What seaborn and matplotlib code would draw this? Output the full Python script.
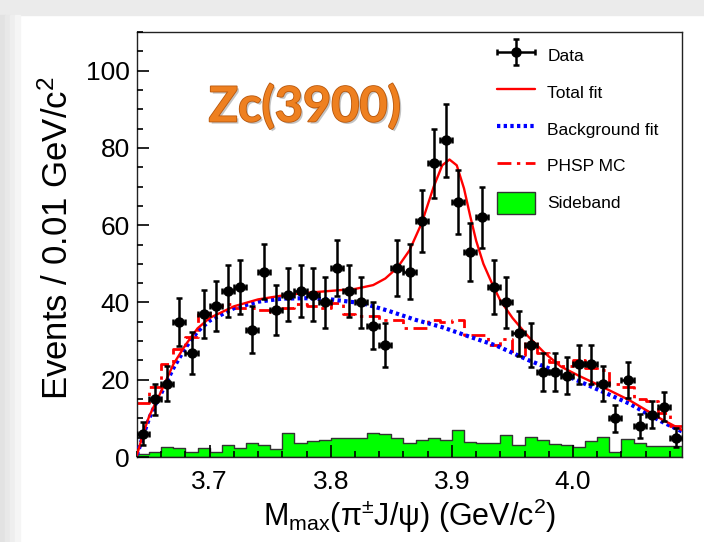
import numpy as np
import pandas as pd
import matplotlib
matplotlib.use("Agg")
import matplotlib.pyplot as plt
import matplotlib.patheffects as pe
from matplotlib.patches import Patch, Rectangle
from matplotlib.ticker import MultipleLocator
from matplotlib.container import ErrorbarContainer
from matplotlib.legend_handler import HandlerErrorbar
import seaborn as sns

# -------------------------------
# Data, bins of 0.01 GeV/c^2 from 3.64
# -------------------------------
bin_lo = 3.64
bin_width = 0.01
n_bins = 45

data_counts = [6, 15, 19, 35, 27, 37, 39, 43, 44, 33,
               48, 38, 42, 43, 42, 40, 49, 43, 40, 34,
               29, 49, 48, 61, 76, 82, 66, 53, 62, 44,
               40, 32, 29, 22, 22, 21, 24, 24, 19, 10,
               20, 8, 11, 13, 5]
data_errors = [3.0, 4.0, 4.5, 6.2, 5.4, 6.3, 6.5, 6.8, 6.9, 6.0,
               7.2, 6.4, 6.8, 6.8, 6.8, 6.6, 7.2, 6.8, 6.6, 6.0,
               5.6, 7.2, 7.2, 8.0, 8.9, 9.4, 8.4, 7.5, 8.0, 6.9,
               6.6, 5.9, 5.6, 4.9, 4.9, 4.8, 5.1, 5.1, 4.6, 3.4,
               4.7, 3.1, 3.5, 3.8, 2.4]
phsp_mc = [14, 18, 24, 28, 31, 37, 39, 39.5, 38.5, 38.5,
           38, 37.5, 38.5, 39.5, 39, 38.5, 39.8, 37, 36.5, 36.5,
           35.5, 35.5, 33.5, 33.5, 35.5, 35, 35.5, 31.5, 31.5, 29,
           30.5, 26.5, 30, 27, 24.5, 23.5, 25, 23, 22.5, 19,
           18, 15, 14.5, 11.5, 8]
sideband = [0.9, 1.4, 2.5, 2.3, 1.2, 2.3, 1.4, 3.0, 2.3, 3.7,
            3.2, 2.0, 6.3, 3.7, 4.2, 4.4, 4.9, 4.9, 4.9, 6.3,
            6.0, 4.9, 3.5, 4.4, 4.8, 4.4, 7.1, 3.9, 3.5, 3.7,
            5.7, 3.2, 5.3, 4.4, 3.4, 3.0, 2.5, 4.2, 5.1, 1.4,
            4.6, 3.7, 2.8, 2.8, 2.8]

total_fit_x = [3.640, 3.645, 3.650, 3.655, 3.660, 3.670, 3.680, 3.690, 3.700,
               3.720, 3.740, 3.760, 3.780, 3.800, 3.820, 3.835, 3.845, 3.855,
               3.865, 3.875, 3.885, 3.892, 3.898, 3.904, 3.910, 3.915, 3.920,
               3.926, 3.933, 3.940, 3.950, 3.963, 3.977, 3.990, 4.005, 4.020,
               4.046, 4.073, 4.090]
total_fit_y = [0.5, 6, 10.5, 13.8, 17, 24, 29, 33.3, 36,
               39, 40.8, 41.8, 42.5, 43, 43.5, 44.5, 46.2, 49,
               53.5, 60.5, 70, 75.5, 77, 75.5, 69.5, 62.5, 56,
               50, 45, 40.5, 36, 31.2, 26.8, 23.4, 21, 18.8,
               14.8, 9.8, 7]
bkg_fit_x = [3.640, 3.645, 3.650, 3.655, 3.660, 3.670, 3.680, 3.690, 3.700,
             3.720, 3.740, 3.760, 3.780, 3.800, 3.826, 3.847, 3.870, 3.892,
             3.914, 3.937, 3.963, 3.990, 4.018, 4.046, 4.073, 4.090]
bkg_fit_y = [0.5, 5.5, 10, 13.5, 16.5, 23, 28.3, 32.5, 35.3,
             38.5, 40.2, 41, 41.1, 40.8, 39.8, 37.9, 35.5, 33.6,
             31.2, 28.8, 25.1, 21.7, 17.8, 13.9, 9.2, 6.6]

edges = bin_lo + bin_width * np.arange(n_bins + 1)
centers = edges[:-1] + bin_width / 2
hist_df = pd.DataFrame({'mass': centers, 'sideband': sideband, 'phsp': phsp_mc})

# -------------------------------
# Style
# -------------------------------
sns.set_style("ticks")
plt.rcParams['font.family'] = ['Liberation Sans', 'DejaVu Sans']
plt.rcParams['mathtext.fontset'] = 'custom'
plt.rcParams['mathtext.rm'] = 'Liberation Sans'
plt.rcParams['mathtext.it'] = 'Liberation Sans'
for key in ['text.color', 'axes.labelcolor', 'xtick.color', 'ytick.color', 'axes.edgecolor']:
    plt.rcParams[key] = 'black'

fig = plt.figure(figsize=(7.04, 5.42), dpi=100)
fig.patch.set_facecolor('white')

# slide screenshot border (grey strip at top and left)
fig.patches.append(Rectangle((0, 1 - 15 / 542), 1, 15 / 542, transform=fig.transFigure,
                             color='#ebebeb', zorder=0))
for i, c in enumerate(['#e2e2e2', '#e8e8e8', '#eeeeee', '#f5f5f5']):
    fig.patches.append(Rectangle((i * 5 / 704, 0), 5 / 704, 1 - 15 / 542,
                                 transform=fig.transFigure, color=c, zorder=0))

ax = fig.add_axes([0.1946, 0.1568, 0.7742, 0.7841])

# sideband (green filled histogram)
sns.histplot(data=hist_df, x='mass', weights='sideband', bins=list(edges),
             element="step", fill=True, facecolor="#00ff00", edgecolor="#333333",
             linewidth=1.0, alpha=1, ax=ax, zorder=1)

# PHSP MC (red dash-dot histogram)
sns.histplot(data=hist_df, x='mass', weights='phsp', bins=list(edges),
             element="step", fill=False, color="red", linewidth=2.0,
             linestyle=(0, (5, 2, 1.2, 2)), ax=ax, zorder=2)

# background fit and total fit
sns.lineplot(x=bkg_fit_x, y=bkg_fit_y, color="#0000ff", linewidth=3.0,
             linestyle=(0, (0.8, 0.8)), sort=False, ax=ax, zorder=3)
sns.lineplot(x=total_fit_x, y=total_fit_y, color="red", linewidth=1.7,
             sort=False, ax=ax, zorder=4)

# data points
data_h = ax.errorbar(centers, data_counts, xerr=bin_width / 2, yerr=data_errors,
                     fmt='o', color='black', ms=6.5, lw=1.8, capsize=2.2,
                     capthick=1.8, zorder=5)

ax.set_xlim(3.64, 4.09)
ax.set_ylim(0, 110)
ax.xaxis.set_major_locator(MultipleLocator(0.1))
ax.xaxis.set_minor_locator(MultipleLocator(0.02))
ax.yaxis.set_major_locator(MultipleLocator(20))
ax.yaxis.set_minor_locator(MultipleLocator(5))
ax.xaxis.set_major_formatter(matplotlib.ticker.FormatStrFormatter('%.1f'))
ax.tick_params(which='both', direction='in', top=False, right=False,
               left=True, bottom=True, width=1.2, color='black')
ax.tick_params(which='major', length=8.5, labelsize=19)
ax.tick_params(which='minor', length=4.5)
ax.tick_params(axis='x', which='major', pad=9)
ax.tick_params(axis='y', which='major', pad=5)
ax.set_axisbelow(False)
for s in ax.spines.values():
    s.set_visible(True)
    s.set_linewidth(1.0)
    s.set_color('#222222')

ax.set_xlabel(r'M$_{\mathregular{max}}$(π$^{\pm}$J/ψ) (GeV/c$^{\mathregular{2}}$)', fontsize=22)
ax.set_ylabel(r'Events / 0.01 GeV/c$^{\mathregular{2}}$', fontsize=25)
ax.xaxis.set_label_coords(0.50, -0.094)
ax.yaxis.set_label_coords(-0.114, 0.515)

# Zc(3900) label
ax.text(0.308, 0.826, 'Zc(3900)', transform=ax.transAxes, ha='center', va='center',
        fontsize=35, fontweight='bold', family='Lato', color='#ee8020',
        path_effects=[pe.withSimplePatchShadow(offset=(1.5, -1.5), shadow_rgbFace='#888888', alpha=0.5),
                      pe.withStroke(linewidth=1.2, foreground='#b8580e')])

# legend
handles = [data_h,
           plt.Line2D([], [], color='red', lw=1.7),
           plt.Line2D([], [], color='#0000ff', lw=3.0, linestyle=(0, (0.8, 0.8))),
           plt.Line2D([], [], color='red', lw=2.0, linestyle=(0, (5, 2, 1.2, 2))),
           Patch(facecolor='#00ff00', edgecolor='#333333', linewidth=1.0)]
labels = ['Data', 'Total fit', 'Background fit', 'PHSP MC', 'Sideband']
ax.legend(handles, labels, loc='upper left', bbox_to_anchor=(0.6606, 0.972),
          frameon=False, fontsize=12.5, handlelength=2.2, handleheight=1.6,
          labelspacing=0.84, handletextpad=0.7, borderpad=0, borderaxespad=0,
          handler_map={ErrorbarContainer: HandlerErrorbar(xerr_size=1.1, yerr_size=0.75)})

fig.savefig('out.png', dpi=100)
